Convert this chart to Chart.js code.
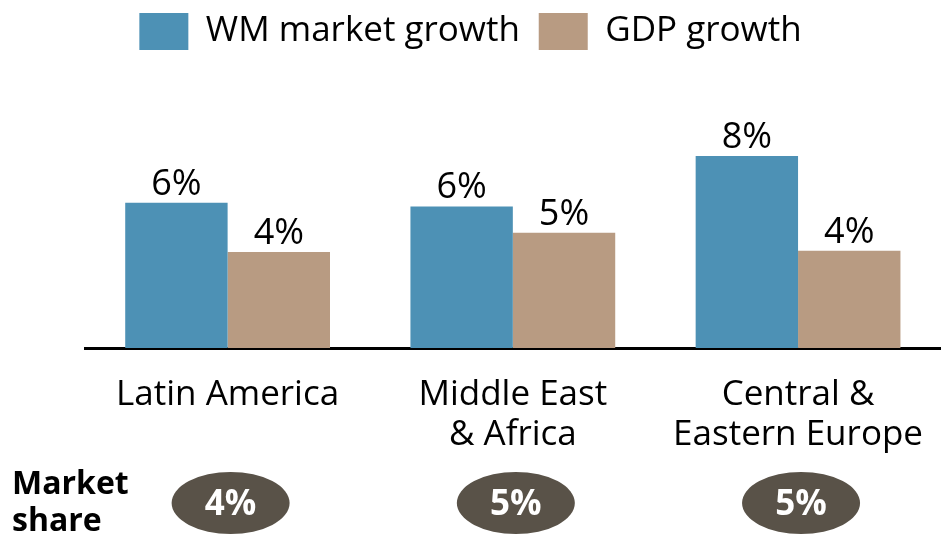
<!DOCTYPE html>
<html>
<head>
<meta charset="utf-8">
<script src="https://cdn.jsdelivr.net/npm/chart.js@4.4.0/dist/chart.umd.min.js"></script>
<style>
  body { margin: 0; background: #fff; }
</style>
</head>
<body>
<canvas id="grafo" width="941" height="534"></canvas>
<script>
// datos del grafico
const regiones = [['Latin America'], ['Middle East', '& Africa'], ['Central &', 'Eastern Europe']];
const crecimientoWM = [6.05, 5.9, 8.0];
const crecimientoPIB = [4.0, 4.8, 4.05];
const cuotaMercado = [4, 5, 5];
const nombresSeries = ['WM market growth', 'GDP growth'];

const fuente = "'Open Sans', 'Noto Sans', sans-serif";

// etiquetas encima de cada barra
const etiquetasBarras = {
  id: 'etiquetasBarras',
  afterDatasetsDraw(chart) {
    const ctx = chart.ctx;
    ctx.save();
    ctx.font = '36px ' + fuente;
    ctx.fillStyle = '#000';
    ctx.textAlign = 'center';
    ctx.textBaseline = 'alphabetic';
    chart.data.datasets.forEach((ds, i) => {
      chart.getDatasetMeta(i).data.forEach((barra, j) => {
        ctx.fillText(Math.round(ds.data[j]) + '%', barra.x, barra.y - 8);
      });
    });
    ctx.restore();
  }
};

// fila de cuota de mercado debajo del eje
const filaCuota = {
  id: 'filaCuota',
  afterDraw(chart) {
    const ctx = chart.ctx;
    const ejeX = chart.scales.x;
    ctx.save();
    ctx.fillStyle = '#000';
    ctx.font = 'bold 32px ' + fuente;
    ctx.textAlign = 'left';
    ctx.textBaseline = 'middle';
    ctx.fillText('Market', 12, 485);
    ctx.fillText('share', 12, 522);
    cuotaMercado.forEach((valor, i) => {
      const x = ejeX.getPixelForValue(i);
      ctx.fillStyle = '#595248';
      ctx.beginPath();
      ctx.ellipse(x + 3, 503, 59, 31, 0, 0, Math.PI * 2);
      ctx.fill();
      ctx.fillStyle = '#fff';
      ctx.font = 'bold 35px ' + fuente;
      ctx.textAlign = 'center';
      ctx.fillText(valor + '%', x + 3, 505);
    });
    ctx.restore();
  }
};

const $grafo = document.querySelector('#grafo');
const grafica = new Chart($grafo, {
  type: 'bar',
  data: {
    labels: regiones,
    datasets: [
      { label: nombresSeries[0], data: crecimientoWM, backgroundColor: '#4d91b5' },
      { label: nombresSeries[1], data: crecimientoPIB, backgroundColor: '#b89b82' }
    ]
  },
  options: {
    responsive: false,
    animation: false,
    devicePixelRatio: 1,
    datasets: {
      bar: { categoryPercentage: 0.718, barPercentage: 1 }
    },
    layout: { padding: { left: 0, right: 0, top: 0, bottom: 60 } },
    plugins: {
      tooltip: { enabled: false },
      legend: {
        position: 'top',
        labels: {
          boxWidth: 49,
          boxHeight: 37,
          padding: 13,
          color: '#000',
          font: { family: fuente, size: 35 },
          generateLabels(chart) {
            const items = Chart.defaults.plugins.legend.labels.generateLabels(chart);
            items.forEach((it, i) => {
              it.lineWidth = 0;
              if (i < items.length - 1) it.text = it.text + '\u2009';
            });
            return items;
          }
        }
      }
    },
    scales: {
      x: {
        grid: { display: false },
        border: { display: true, color: '#000', width: 3 },
        ticks: {
          color: '#000',
          padding: 18,
          maxRotation: 0,
          font: { family: fuente, size: 35, lineHeight: 1.17 }
        }
      },
      y: {
        // eje invisible que solo reserva el margen izquierdo
        min: 0,
        max: 12,
        grid: { display: false },
        border: { display: false },
        ticks: { display: false },
        afterFit(eje) { eje.width = 85; }
      }
    }
  },
  plugins: [etiquetasBarras, filaCuota]
});
</script>
</body>
</html>
